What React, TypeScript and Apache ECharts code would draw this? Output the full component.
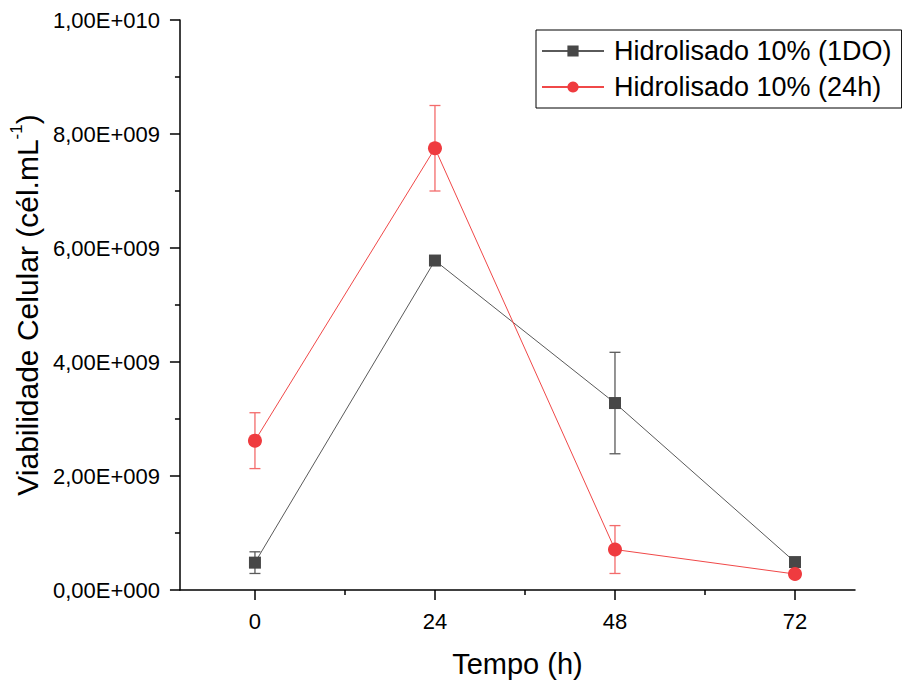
import React, { useEffect, useRef } from "react";
import * as echarts from "echarts";

const times = [0, 24, 48, 72];
const seriesNames = ["Hidrolisado 10% (1DO)", "Hidrolisado 10% (24h)"];
const do1Values = [0.48e9, 5.78e9, 3.28e9, 0.49e9];
const do1Errors = [0.19e9, 0.05e9, 0.89e9, 0.04e9];
const h24Values = [2.62e9, 7.75e9, 0.71e9, 0.28e9];
const h24Errors = [0.49e9, 0.75e9, 0.42e9, 0.05e9];
const xMajorTicks = [0, 24, 48, 72];
const xMinorTicks = [12, 36, 60];

const FONT = "'Liberation Sans', Arial, sans-serif";

function fmtSci(v: number): string {
  if (v === 0) return "0,00E+000";
  const e = Math.floor(Math.log10(Math.abs(v)) + 1e-9);
  const m = v / Math.pow(10, e);
  return m.toFixed(2).replace(".", ",") + "E+" + String(e).padStart(3, "0");
}

function errorSeries(values: number[], errors: number[], color: string) {
  const data = times.map((t, i) => [t, values[i], errors[i]]);
  return {
    type: "custom",
    xAxisIndex: 0,
    yAxisIndex: 0,
    z: 1,
    silent: true,
    data,
    renderItem: (params: any, api: any) => {
      const x = api.value(0);
      const y = api.value(1);
      const e = api.value(2);
      const top = api.coord([x, y + e]);
      const bot = api.coord([x, y - e]);
      const hw = 5.5;
      const style = { stroke: color, lineWidth: 1.3 };
      return {
        type: "group",
        children: [
          { type: "line", shape: { x1: top[0], y1: top[1], x2: bot[0], y2: bot[1] }, style },
          { type: "line", shape: { x1: top[0] - hw, y1: top[1], x2: top[0] + hw, y2: top[1] }, style },
          { type: "line", shape: { x1: bot[0] - hw, y1: bot[1], x2: bot[0] + hw, y2: bot[1] }, style },
        ],
      };
    },
  };
}

export default function App() {
  const ref = useRef<HTMLDivElement>(null);
  useEffect(() => {
    if (!ref.current) return;
    const chart = echarts.init(ref.current, null, { renderer: "svg" });
    const option: any = {
      animation: false,
      backgroundColor: "#ffffff",
      textStyle: { fontFamily: FONT },
      grid: { left: 178, right: 47, top: 20, bottom: 94, containLabel: false },
      legend: {
        data: seriesNames,
        left: 536,
        top: 30,
        orient: "vertical",
        padding: [6, 10, 6, 5],
        itemGap: 6,
        itemWidth: 62,
        itemHeight: 14,
        borderColor: "#000",
        borderWidth: 1,
        textStyle: { fontSize: 27, color: "#000", fontFamily: FONT, lineHeight: 30, padding: [0, 0, 0, 5] },
      },
      xAxis: [
        {
          type: "value",
          min: -10,
          max: 80,
          position: "bottom",
          name: "Tempo (h)",
          nameLocation: "middle",
          nameGap: 59,
          nameTextStyle: { fontSize: 29, color: "#000", fontFamily: FONT },
          axisLine: { show: true, onZero: false, lineStyle: { color: "#000", width: 1.5 } },
          axisTick: { show: true, inside: false, length: 10, customValues: xMajorTicks, lineStyle: { color: "#000", width: 1.5 } },
          axisLabel: { show: true, customValues: xMajorTicks, margin: 20, fontSize: 22, color: "#000", fontFamily: FONT },
          splitLine: { show: false },
        },
        {
          type: "value",
          min: -10,
          max: 80,
          position: "bottom",
          axisLine: { show: false, onZero: false },
          axisTick: { show: true, inside: false, length: 5, customValues: xMinorTicks, lineStyle: { color: "#000", width: 1.5 } },
          axisLabel: { show: false },
          splitLine: { show: false },
        },
      ],
      yAxis: {
        type: "value",
        min: 0,
        max: 1e10,
        interval: 2e9,
        name: "{a|Viabilidade Celular (cél.mL}{s|-1}{a|)}",
        nameLocation: "middle",
        nameRotate: 90,
        nameGap: 134,
        nameTextStyle: {
          fontSize: 30,
          color: "#000",
          fontFamily: FONT,
          rich: {
            a: { fontSize: 30, color: "#000", fontFamily: FONT, lineHeight: 34, verticalAlign: "bottom" },
            s: { fontSize: 17, color: "#000", fontFamily: FONT, lineHeight: 34, verticalAlign: "top", padding: [0, 0, 14, 0] },
          },
        },
        axisLine: { show: true, onZero: false, lineStyle: { color: "#000", width: 1.5 } },
        axisTick: { show: true, inside: false, length: 10, lineStyle: { color: "#000", width: 1.5 } },
        minorTick: { show: true, splitNumber: 2, length: 5, lineStyle: { color: "#000", width: 1.5 } },
        axisLabel: { margin: 20, fontSize: 22, color: "#000", fontFamily: FONT, formatter: (v: number) => fmtSci(v) },
        splitLine: { show: false },
      },
      series: [
        errorSeries(do1Values, do1Errors, "#5a5a5a"),
        errorSeries(h24Values, h24Errors, "#f36b6b"),
        {
          name: seriesNames[0],
          type: "line",
          z: 3,
          data: times.map((t, i) => [t, do1Values[i]]),
          symbol: "rect",
          symbolSize: 12,
          itemStyle: { color: "#474747" },
          lineStyle: { color: "#5a5a5a", width: 1 },
        },
        {
          name: seriesNames[1],
          type: "line",
          z: 4,
          data: times.map((t, i) => [t, h24Values[i]]),
          symbol: "circle",
          symbolSize: 14,
          itemStyle: { color: "#ef3b3f" },
          lineStyle: { color: "#f04848", width: 1 },
        },
      ],
    };
    chart.setOption(option);
    return () => chart.dispose();
  }, []);
  return <div ref={ref} style={{ position: "absolute", left: 0, top: 0, width: 902, height: 684 }} />;
}
